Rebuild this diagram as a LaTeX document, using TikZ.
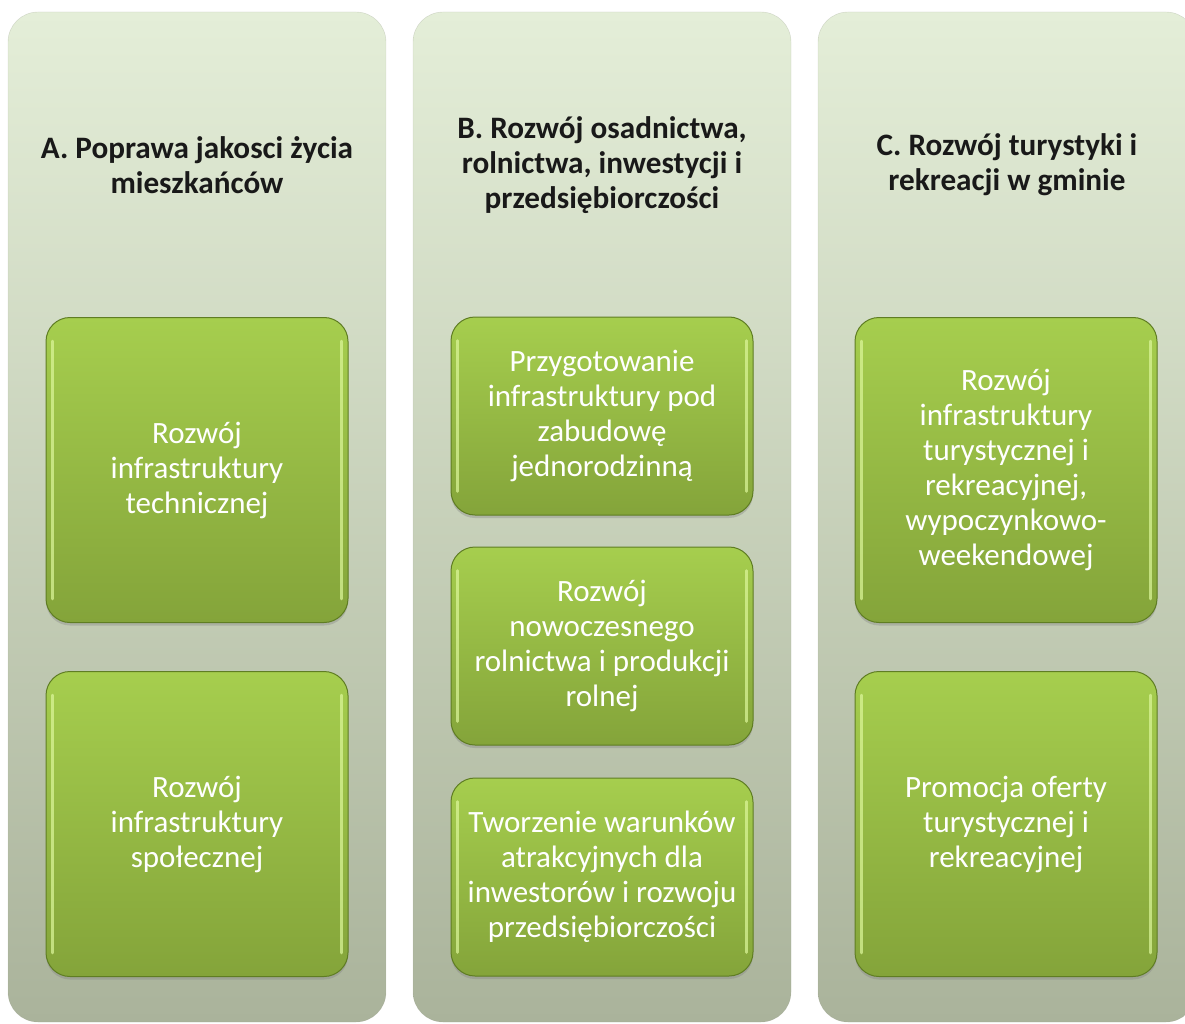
\documentclass[tikz,border=0pt]{standalone}
\usepackage{fontspec}
\setmainfont{Carlito}
\usetikzlibrary{shadows}
\definecolor{coltop}{HTML}{E4EED8}
\definecolor{colbottom}{HTML}{AAB39B}
\definecolor{boxtop}{HTML}{A6CE4E}
\definecolor{boxbottom}{HTML}{84A43A}
\definecolor{boxedge}{HTML}{5F7D23}
\definecolor{glintcol}{HTML}{DDF79C}
\begin{document}
\begin{tikzpicture}[x=1pt, y=-1pt,
    column/.style={rounded corners=30pt, top color=coltop, bottom color=colbottom,
        draw=colbottom!80!black, draw opacity=0.3, minimum width=378pt, minimum height=1010pt},
    headtext/.style={align=center, text=black!90, font=\fontsize{31.2}{35}\selectfont\bfseries},
    goalbox/.style={rounded corners=24pt, top color=boxtop, bottom color=boxbottom,
        draw=boxedge, line width=1pt, minimum width=302pt, inner sep=0pt, align=center,
        text=white, font=\fontsize{31}{35}\selectfont,
        drop shadow={shadow xshift=0pt, shadow yshift=-3pt, opacity=0.35}},
    glint/.style={draw=glintcol, line width=2.5pt, line cap=round, opacity=0.7}]
    \fill[white] (0,0) rectangle (1185,1024);
    \clip (0,0) rectangle (1185,1024);
    % columns
    \node[column] (colA) at (197,517) {};
    \node[column] (colB) at (602,517) {};
    \node[column] (colC) at (1007,517) {};
    % headers
    \node[headtext] (headA) at (197,165) {A. Poprawa jakosci życia\\mieszkańców};
    \node[headtext] (headB) at (602,165) {B. Rozwój osadnictwa,\\rolnictwa, inwestycji i\\przedsiębiorczości};
    \node[headtext] (headC) at (1007,165) {C. Rozwój turystyki i\\rekreacji w gminie};
    % column A
    \node[goalbox, minimum height=305pt] (a1) at (197,470) {Rozwój\\infrastruktury\\technicznej};
    \node[goalbox, minimum height=305pt] (a2) at (197,824) {Rozwój\\infrastruktury\\społecznej};
    % column B
    \node[goalbox, minimum height=198pt] (b1) at (602,416) {Przygotowanie\\infrastruktury pod\\zabudowę\\jednorodzinną};
    \node[goalbox, minimum height=198pt] (b2) at (602,646) {Rozwój\\nowoczesnego\\rolnictwa i produkcji\\rolnej};
    \node[goalbox, minimum height=198pt] (b3) at (602,877) {Tworzenie warunków\\atrakcyjnych dla\\inwestorów i rozwoju\\przedsiębiorczości};
    % column C
    \node[goalbox, minimum height=305pt] (c1) at (1006,470) {Rozwój\\infrastruktury\\turystycznej i\\rekreacyjnej,\\wypoczynkowo-\\weekendowej};
    \node[goalbox, minimum height=305pt] (c2) at (1006,824) {Promocja oferty\\turystycznej i\\rekreacyjnej};
    % highlights on the sides
    \foreach \b in {a1,a2,b1,b2,b3,c1,c2} {
        \draw[glint] ([shift={(7,24)}]\b.north west) -- ([shift={(7,-24)}]\b.south west);
        \draw[glint] ([shift={(-7,24)}]\b.north east) -- ([shift={(-7,-24)}]\b.south east);
    }
\end{tikzpicture}
\end{document}
